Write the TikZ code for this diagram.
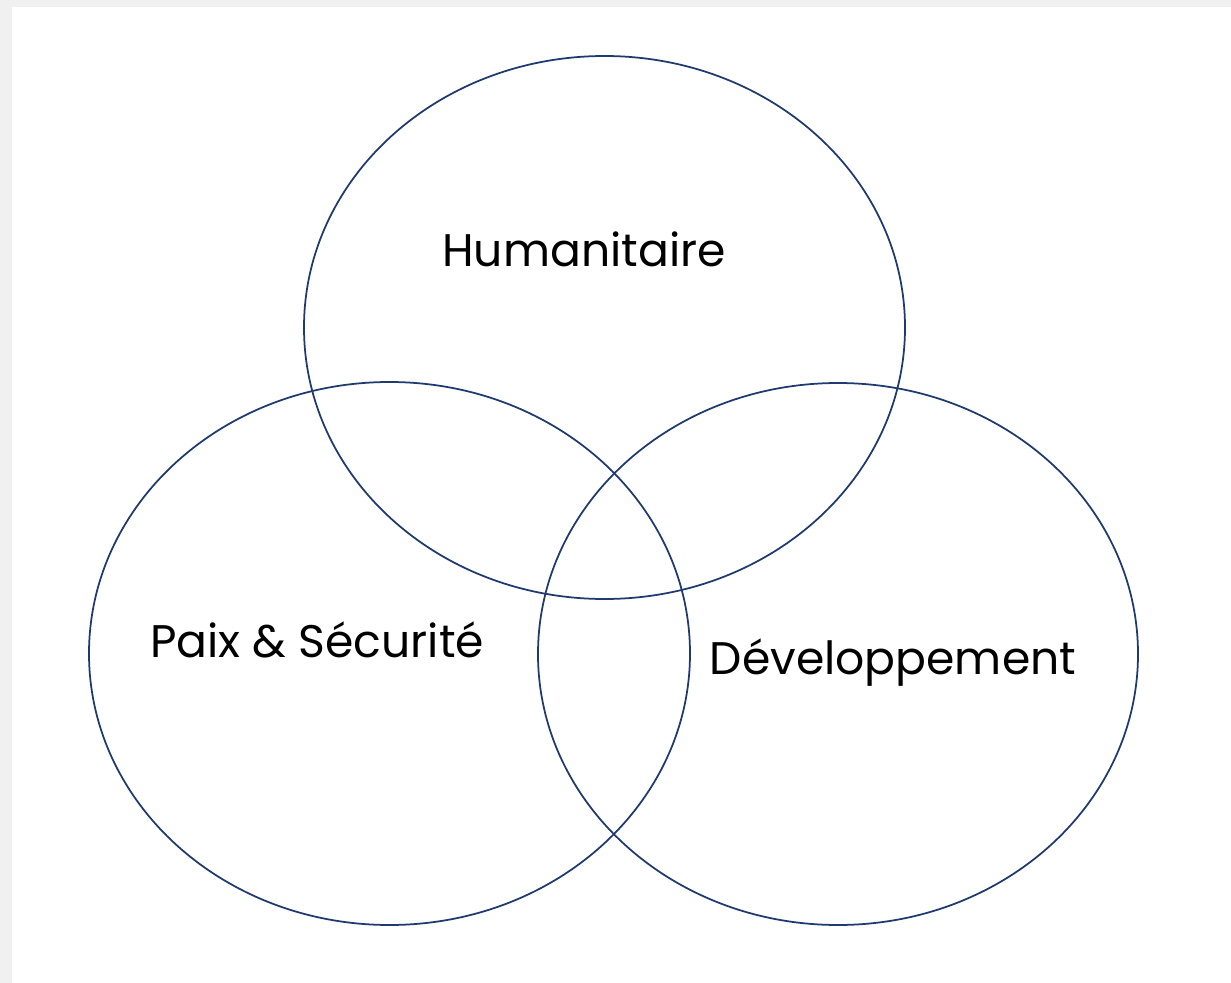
\documentclass[tikz,border=0pt]{standalone}
\usepackage{fontspec}
\setmainfont{Poppins}
\definecolor{ring}{HTML}{1F3A6E}
\definecolor{frame}{HTML}{F0F0F0}
\begin{document}
\begin{tikzpicture}[x=0.02cm,y=-0.02cm,
  ringstyle/.style={draw=ring,line width=0.035cm},
  lbl/.style={font=\fontsize{26}{30}\selectfont,text=black,inner sep=0pt}]
\useasboundingbox (0,0) rectangle (1231,983);
\fill[frame] (0,0) rectangle (1231,983);
\fill[white] (12,7) rectangle (1231,983);
\draw[ringstyle] (604.5,327.5) ellipse [x radius=300.5, y radius=271.5];
\draw[ringstyle] (389.5,653.5) ellipse [x radius=300.5, y radius=271.5];
\draw[ringstyle] (838,654) ellipse [x radius=300, y radius=271];
\node[lbl] (h) at (584,249) {Humanitaire};
\node[lbl] (p) at (317,640) {Paix \& Sécurité};
\node[lbl] (d) at (893,663) {Développement};
\end{tikzpicture}
\end{document}
